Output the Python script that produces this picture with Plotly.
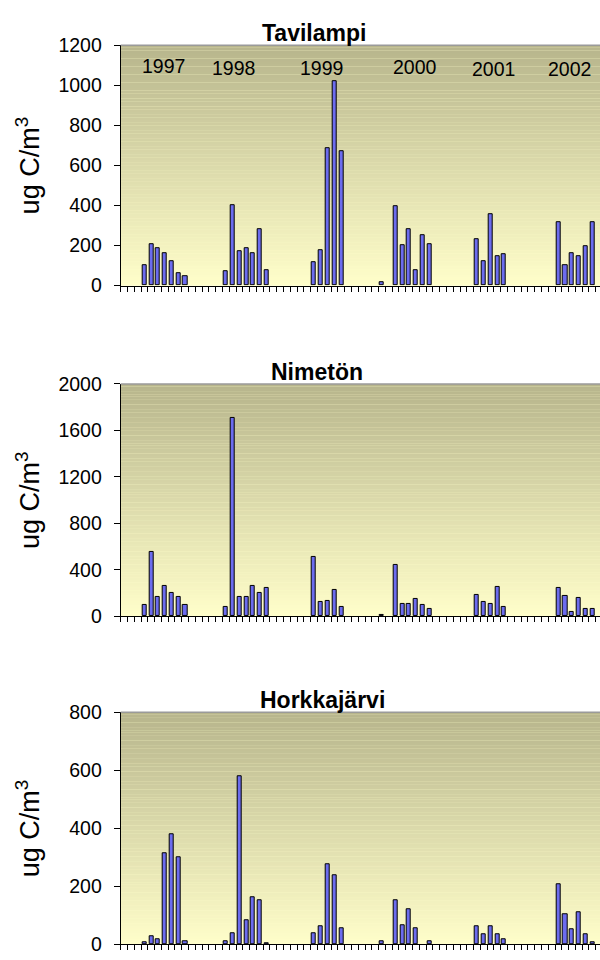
import plotly.graph_objects as go

W, H = 600, 960

# Monthly slots counted from January 1997; 70 slots are visible.
n_months = 70
months = list(range(n_months))

N = None
lakes = ["Tavilampi", "Nimetön", "Horkkajärvi"]
years = ["1997", "1998", "1999", "2000", "2001", "2002"]

tavilampi = [
    N, N, N, 102, 209, 187, 163, 124, 62, 45, N, N,       # 1997
    N, N, N, 70, 403, 171, 187, 163, 280, 75, N, N,       # 1998
    N, N, N, N, 116, 179, 686, 1021, 670, N, N, N,        # 1999
    N, N, 16, N, 395, 203, 280, 77, 249, 208, N, N,       # 2000
    N, N, N, N, 233, 124, 358, 148, 155, N, N, N,         # 2001
    N, N, N, N, 317, 101, 163, 148, 195, 317,             # 2002
]
nimeton = [
    N, N, N, 93, 550, 162, 263, 198, 162, 93, N, N,       # 1997
    N, N, N, 78, 1706, 162, 162, 263, 199, 241, N, N,     # 1998
    N, N, N, N, 508, 120, 131, 227, 78, N, N, N,          # 1999
    N, N, 12, N, 443, 106, 106, 146, 93, 64, N, N,        # 2000
    N, N, N, N, 185, 118, 106, 253, 78, N, N, N,          # 2001
    N, N, N, N, 241, 171, 36, 160, 64, 64,                # 2002
]
horkkajarvi = [
    N, N, N, 6, 26, 16, 314, 378, 298, 10, N, N,          # 1997
    N, N, N, 10, 37, 580, 81, 162, 151, 4, N, N,          # 1998
    N, N, N, N, 38, 60, 276, 238, 54, N, N, N,            # 1999
    N, N, 11, N, 152, 65, 121, 55, N, 10, N, N,           # 2000
    N, N, N, N, 60, 33, 60, 33, 17, N, N, N,              # 2001
    N, N, N, N, 206, 104, 50, 109, 33, 6,                 # 2002
]
series = [tavilampi, nimeton, horkkajarvi]
y_max = [1200, 2000, 800]
y_step = [200, 400, 200]

# ---- geometry (pixels) ----
plot_left = 120.7
slot_w = 6.786
plot_tops = [35, 381.7, 717.7]
plot_bottoms = [281, 619.3, 955]
title_cx = [313.5, 316.5, 322.5]
year_pos = [(163.3, 56.3), (233.8, 58.0), (321.7, 58.7),
            (414.5, 57.5), (493.7, 59.8), (569.5, 59.8)]

FONT = "Arial, 'Liberation Sans', sans-serif"
BAR_COLOR = "#6c6cee"
TOP_COLOR = (183, 181, 140)
BOT_COLOR = (255, 254, 202)


def px_x(x):
    return x / W


def px_y(y):
    return 1 - y / H


fig = go.Figure()
x_end = (W - plot_left) / slot_w - 0.5

shapes = []
annotations = []
for i, (name, vals) in enumerate(zip(lakes, series)):
    sfx = "" if i == 0 else str(i + 1)
    fig.add_trace(go.Bar(
        x=months, y=vals, xaxis="x" + sfx, yaxis="y" + sfx,
        width=0.6, marker=dict(color=BAR_COLOR, line=dict(color="#000000", width=1)),
        showlegend=False, hoverinfo="x+y",
    ))
    dom_y = [px_y(plot_bottoms[i]), px_y(plot_tops[i])]
    fig.update_layout({
        "xaxis" + sfx: dict(
            domain=[px_x(plot_left), 1.0], anchor="y" + sfx,
            range=[-0.5, x_end], tickmode="array",
            tickvals=[k - 0.5 for k in range(n_months + 2)],
            ticks="outside", ticklen=5, tickwidth=1, tickcolor="#000000",
            showticklabels=False, showgrid=False, zeroline=False,
            showline=True, linecolor="#000000", linewidth=1,
        ),
        "yaxis" + sfx: dict(
            domain=dom_y, anchor="x" + sfx,
            range=[0, y_max[i]], tickmode="linear", tick0=0, dtick=y_step[i],
            ticks="outside", ticklen=6, tickwidth=1, tickcolor="#000000",
            tickfont=dict(family=FONT, size=19.5, color="#000000"),
            ticklabelstandoff=8,
            showgrid=False, zeroline=False,
            showline=True, linecolor="#000000", linewidth=1,
        ),
    })

    # vertical two-colour gradient behind the bars
    nb = 90
    for b in range(nb):
        t = (b + 0.5) / nb
        c = tuple(round(BOT_COLOR[j] + (TOP_COLOR[j] - BOT_COLOR[j]) * t) for j in range(3))
        shapes.append(dict(
            type="rect", xref="x" + sfx + " domain", yref="y" + sfx + " domain",
            x0=0, x1=1, y0=b / nb, y1=min(1.0, (b + 1.05) / nb),
            fillcolor="rgb(%d,%d,%d)" % c, line=dict(width=0), layer="below",
        ))
    # grey frame line along the top of the plot area
    shapes.append(dict(
        type="line", xref="x" + sfx + " domain", yref="y" + sfx + " domain",
        x0=0, x1=1, y0=1, y1=1, line=dict(color="#9a9a9a", width=1.5), layer="above",
    ))

    # lake name
    annotations.append(dict(
        text="<b>%s</b>" % name, xref="paper", yref="paper",
        x=px_x(title_cx[i]), y=px_y(plot_tops[i] - 12.2),
        xanchor="center", yanchor="middle", showarrow=False,
        font=dict(family=FONT, size=23, color="#000000"),
    ))
    # unit label
    annotations.append(dict(
        text="ug C/m<sup>3</sup>", xref="paper", yref="paper",
        x=px_x(28), y=px_y((plot_tops[i] + plot_bottoms[i]) / 2),
        xanchor="center", yanchor="middle", textangle=-90, showarrow=False,
        font=dict(family=FONT, size=27, color="#000000"),
    ))

# year labels inside the first panel
for yr, (cx, cy) in zip(years, year_pos):
    annotations.append(dict(
        text=yr, xref="paper", yref="paper", x=px_x(cx), y=px_y(cy),
        xanchor="center", yanchor="middle", showarrow=False,
        font=dict(family=FONT, size=19.5, color="#000000"),
    ))

fig.update_layout(
    width=W, height=H, margin=dict(l=0, r=0, t=0, b=0),
    paper_bgcolor="#ffffff", plot_bgcolor="rgb(255,254,202)",
    bargap=0, shapes=shapes, annotations=annotations,
)

fig.write_html("out.html")
